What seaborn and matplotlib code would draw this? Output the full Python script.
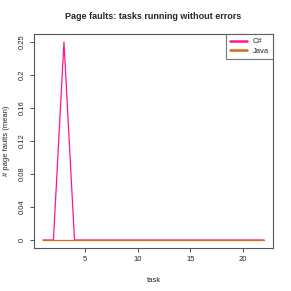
import numpy as np
import pandas as pd
import seaborn as sns
import matplotlib.pyplot as plt
from matplotlib.lines import Line2D

# data
tasks = list(range(1, 23))
csharp_faults = [0, 0, 0.25] + [0] * 19
java_faults = [0] * 22
languages = ["C#", "Java"]
colors = {"C#": "#FF1493", "Java": "#D2691E"}
ytick_labels = ["0", "0.04", "0.08", "0.12", "0.16", "0.2", "0.25"]

df = pd.concat([
    pd.DataFrame({"task": tasks, "faults": csharp_faults, "lang": "C#"}),
    pd.DataFrame({"task": tasks, "faults": java_faults, "lang": "Java"}),
])

sns.set_style("white")
plt.rcParams["font.family"] = ["Liberation Sans", "DejaVu Sans"]

fig = plt.figure(figsize=(2.91, 2.91), dpi=100)
ax = fig.add_axes([0.117, 0.148, 0.821, 0.735])

sns.lineplot(data=df, x="task", y="faults", hue="lang", hue_order=languages,
             palette=colors, linewidth=0.9, legend=False, ax=ax)

ax.set_xlim(0.16, 22.84)
ax.set_ylim(-0.01, 0.26)
ax.set_xticks([5, 10, 15, 20])
ax.set_yticks(np.linspace(0, 0.25, 7))
ax.set_yticklabels(ytick_labels, rotation=90, va="center")
ax.tick_params(axis="both", direction="out", length=3, width=0.6,
               labelsize=5.5, color="#333333", pad=3, left=True, bottom=True)
for s in ax.spines.values():
    s.set_color("#555555")
    s.set_linewidth(0.8)

ax.set_xlabel("task", fontsize=5.5)
ax.set_ylabel("# page faults (mean)", fontsize=5.5)
ax.yaxis.set_label_coords(-0.10, 0.5)
ax.xaxis.set_label_coords(0.5, -0.135)
ax.set_title("Page faults: tasks running without errors", fontsize=6.5,
             fontweight="bold", pad=11)

handles = [Line2D([], [], color=colors[l], lw=1.8) for l in languages]
leg = ax.legend(handles, languages, loc="upper right", fontsize=5.5,
                frameon=True, fancybox=False, borderaxespad=0,
                handlelength=2.2, borderpad=0.5, labelspacing=0.3)
leg.get_frame().set_edgecolor("#555555")
leg.get_frame().set_linewidth(0.8)

fig.savefig("out.png", dpi=100)
